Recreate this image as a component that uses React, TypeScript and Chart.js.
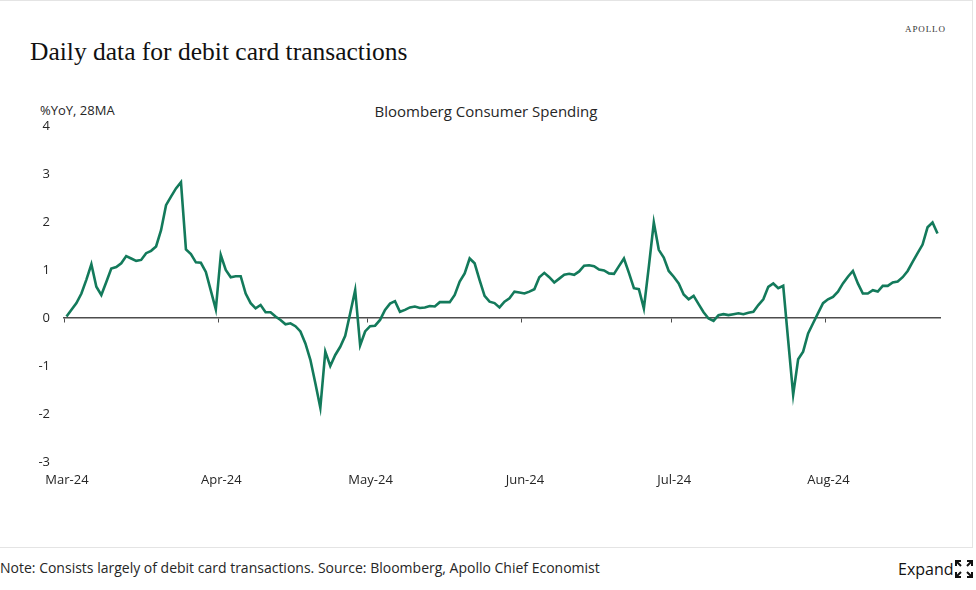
import React, { useEffect, useRef } from "react";
import { Chart, registerables } from "chart.js";

Chart.register(...registerables);

// Daily values, %YoY 28-day moving average, by month (Mar 1 – Aug 23, 2024)
const marValues = [
  0.03, 0.17, 0.31, 0.51, 0.8, 1.12, 0.65, 0.48, 0.75, 1.03, 1.06, 1.14, 1.29, 1.24, 1.19, 1.21,
  1.35, 1.4, 1.49, 1.83, 2.35, 2.53, 2.7, 2.83, 1.43, 1.33, 1.16, 1.15, 0.96, 0.57, 0.18,
];
const aprValues = [
  1.31, 1.0, 0.85, 0.87, 0.87, 0.51, 0.31, 0.2, 0.27, 0.12, 0.12, 0.03, -0.04, -0.13, -0.11,
  -0.17, -0.28, -0.53, -0.87, -1.36, -1.87, -0.7, -1.0, -0.77, -0.6, -0.37, 0.1, 0.58, -0.57, -0.28,
];
const mayValues = [
  -0.17, -0.16, -0.04, 0.17, 0.3, 0.35, 0.13, 0.17, 0.22, 0.24, 0.21, 0.22, 0.25, 0.24, 0.33, 0.33,
  0.33, 0.48, 0.76, 0.93, 1.24, 1.14, 0.79, 0.46, 0.34, 0.31, 0.22, 0.34, 0.41, 0.55, 0.53,
];
const junValues = [
  0.51, 0.55, 0.6, 0.85, 0.94, 0.85, 0.74, 0.82, 0.9, 0.92, 0.9, 0.97, 1.09, 1.1, 1.08, 1.01, 0.99,
  0.93, 0.92, 1.08, 1.24, 0.94, 0.62, 0.6, 0.2, 1.07, 1.99, 1.42, 1.26, 0.98,
];
const julValues = [
  0.86, 0.72, 0.49, 0.39, 0.46, 0.29, 0.12, -0.01, -0.06, 0.06, 0.08, 0.06, 0.08, 0.1, 0.08, 0.11,
  0.13, 0.27, 0.39, 0.65, 0.72, 0.62, 0.67, -0.47, -1.6, -0.86, -0.7, -0.32, -0.11, 0.1, 0.31,
];
const augValues = [
  0.39, 0.44, 0.55, 0.72, 0.86, 0.98, 0.72, 0.51, 0.51, 0.58, 0.55, 0.67, 0.67, 0.74, 0.76, 0.85,
  0.98, 1.17, 1.35, 1.53, 1.89, 1.99, 1.76,
];

const monthLabels = ["Mar-24", "Apr-24", "May-24", "Jun-24", "Jul-24", "Aug-24"];
const monthSeries = [marValues, aprValues, mayValues, junValues, julValues, augValues];
const yTicks = [-3, -2, -1, 0, 1, 2, 3, 4];

const TITLE = "Daily data for debit card transactions";
const CHART_TITLE = "Bloomberg Consumer Spending";
const Y_TITLE = "%YoY, 28MA";
const NOTE = "Note: Consists largely of debit card transactions. Source: Bloomberg, Apollo Chief Economist";

const LINE_COLOR = "#137a5b";
const AXIS_COLOR = "#4d4d4d";
const TEXT_COLOR = "#262626";

export default function App() {
  const canvasRef = useRef<HTMLCanvasElement | null>(null);

  useEffect(() => {
    if (!canvasRef.current) return;
    const allValues: number[] = ([] as number[]).concat(...monthSeries);
    const monthStarts: number[] = [];
    let acc = 0;
    monthSeries.forEach((m) => {
      monthStarts.push(acc);
      acc += m.length;
    });
    const total = allValues.length;
    const points = allValues.map((v, i) => ({ x: i + 0.5, y: v }));
    const setMonthTicks = (s: any) => {
      s.ticks = monthStarts.map((v) => ({ value: v }));
    };
    const tickFont = { family: "'Open Sans', sans-serif", size: 13 };

    const chart = new Chart(canvasRef.current, {
      type: "line",
      data: {
        datasets: [
          {
            data: points,
            borderColor: LINE_COLOR,
            borderWidth: 2.6,
            pointRadius: 0,
            tension: 0,
            fill: false,
            xAxisID: "x",
            yAxisID: "y",
          },
        ],
      },
      options: {
        animation: false,
        responsive: false,
        layout: { padding: { left: 0, right: 36, top: 36, bottom: 18 } },
        plugins: { legend: { display: false }, tooltip: { enabled: false }, title: { display: false } },
        scales: {
          x: {
            type: "linear",
            position: "bottom",
            min: 0,
            max: total,
            grid: { display: false, drawTicks: false },
            border: { display: false },
            afterBuildTicks: setMonthTicks,
            afterFit: (s: any) => {
              s.height = 40;
            },
            ticks: {
              autoSkip: false,
              maxRotation: 0,
              padding: 10,
              labelOffset: 3,
              color: TEXT_COLOR,
              font: tickFont,
              callback: (v: any) => {
                const i = monthStarts.indexOf(Number(v));
                return i >= 0 ? monthLabels[i] : "";
              },
            },
          },
          x2: {
            type: "linear",
            axis: "x",
            position: { y: 0 },
            min: 0,
            max: total,
            grid: { display: true, drawOnChartArea: false, drawTicks: true, tickLength: 4, color: AXIS_COLOR, lineWidth: 1 },
            border: { display: true, color: AXIS_COLOR, width: 1.5 },
            afterBuildTicks: setMonthTicks,
            ticks: { display: false },
          },
          y: {
            type: "linear",
            min: -3,
            max: 4,
            afterBuildTicks: (s: any) => {
              s.ticks = yTicks.map((v) => ({ value: v }));
            },
            afterFit: (s: any) => {
              s.width = 64;
            },
            grid: { display: false, drawTicks: false },
            border: { display: false },
            ticks: { padding: 14, color: TEXT_COLOR, font: tickFont },
          },
        },
      } as any,
    });
    return () => chart.destroy();
  }, []);

  return (
    <div
      style={{
        position: "fixed",
        left: 0,
        top: 0,
        width: 976,
        height: 590,
        background: "#fff",
        overflow: "hidden",
        fontFamily: "'Open Sans', sans-serif",
        color: TEXT_COLOR,
      }}
    >
      <div
        style={{
          position: "absolute",
          left: -2,
          top: 0,
          width: 975,
          height: 548,
          border: "1px solid #e4e4e4",
          boxSizing: "border-box",
        }}
      />
      <div
        style={{
          position: "absolute",
          left: 905,
          top: 24,
          fontFamily: "'Liberation Serif', serif",
          fontSize: 9,
          letterSpacing: 0.9,
          lineHeight: "10px",
          color: "#333",
        }}
      >
        APOLLO
      </div>
      <div
        style={{
          position: "absolute",
          left: 30,
          top: 38,
          fontFamily: "'Liberation Serif', serif",
          fontSize: 25.5,
          lineHeight: "28px",
          color: "#111",
          whiteSpace: "nowrap",
        }}
      >
        {TITLE}
      </div>
      <div style={{ position: "absolute", left: 40, top: 101, fontSize: 13, lineHeight: "18px", whiteSpace: "nowrap" }}>
        {Y_TITLE}
      </div>
      <div
        style={{
          position: "absolute",
          left: 0,
          width: 972,
          top: 101,
          textAlign: "center",
          fontSize: 15,
          lineHeight: "20px",
          whiteSpace: "nowrap",
        }}
      >
        {CHART_TITLE}
      </div>
      <canvas
        ref={canvasRef}
        width={976}
        height={430}
        style={{ position: "absolute", left: 0, top: 90, width: 976, height: 430 }}
      />
      <div style={{ position: "absolute", left: 0, top: 558, fontSize: 14, lineHeight: "20px", whiteSpace: "nowrap" }}>
        {NOTE}
      </div>
      <div
        style={{
          position: "absolute",
          left: 898,
          top: 559,
          fontSize: 16,
          lineHeight: "20px",
          whiteSpace: "nowrap",
          color: "#111",
        }}
      >
        Expand
      </div>
      <svg
        style={{ position: "absolute", left: 955, top: 560 }}
        width={18}
        height={18}
        viewBox="0 0 18 18"
        fill="none"
        stroke="#111"
        strokeWidth={2}
      >
        <path d="M1 6V1h5M1 1l5 5" />
        <path d="M17 6V1h-5M17 1l-5 5" />
        <path d="M1 12v5h5M1 17l5-5" />
        <path d="M17 12v5h-5M17 17l-5-5" />
      </svg>
    </div>
  );
}
